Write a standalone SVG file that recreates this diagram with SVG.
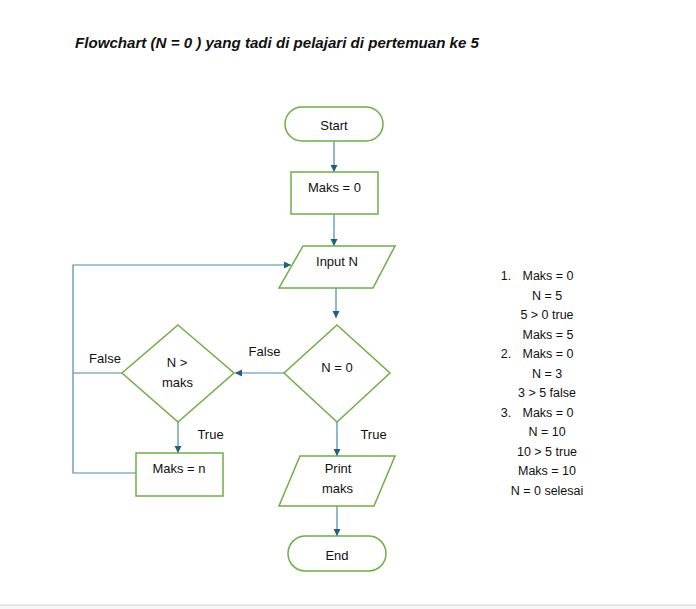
<svg xmlns="http://www.w3.org/2000/svg" width="696" height="609" viewBox="0 0 696 609">
<style>
.node{fill:#fff;stroke:#70AD47;stroke-width:1.5}
.t{font-family:"Liberation Sans",Arial,sans-serif;font-size:13px;fill:#111;text-anchor:middle}
.l{font-family:"Liberation Sans",Arial,sans-serif;font-size:12.5px;fill:#111;text-anchor:middle}
.c{fill:none;stroke:#4F88AE;stroke-width:1.2}
.title{font-family:"Liberation Sans",Arial,sans-serif;font-size:14.5px;font-weight:bold;font-style:italic;fill:#111}
</style>
<defs>
<marker id="ah" markerWidth="8" markerHeight="8" refX="7" refY="4" orient="auto" markerUnits="userSpaceOnUse">
<path d="M0,0.5 L7,4 L0,7.5 Z" fill="#1F5F7F"/>
</marker>
</defs>
<rect x="0" y="0" width="696" height="609" fill="#fff"/>
<rect x="0" y="605" width="696" height="4" fill="#F7F8FA"/>
<line x1="0" y1="605" x2="696" y2="605" stroke="#D4D4D4" stroke-width="1"/>
<text class="title" x="75" y="48" textLength="404" lengthAdjust="spacingAndGlyphs">Flowchart (N = 0 ) yang tadi di pelajari di pertemuan ke 5</text>

<g id="connectors">
<line class="c" x1="334" y1="141" x2="334" y2="172" marker-end="url(#ah)"/>
<line class="c" x1="334" y1="214" x2="334" y2="246" marker-end="url(#ah)"/>
<line class="c" x1="336" y1="288" x2="336" y2="318" marker-end="url(#ah)"/>
<line class="c" x1="284" y1="373" x2="235" y2="373" marker-end="url(#ah)"/>
<polyline class="c" points="122,373 73,373"/>
<polyline class="c" points="136,473 73,473 73,265 291,265" marker-end="url(#ah)"/>
<line class="c" x1="178" y1="422" x2="178" y2="453" marker-end="url(#ah)"/>
<line class="c" x1="337" y1="422" x2="337" y2="456" marker-end="url(#ah)"/>
<line class="c" x1="337" y1="506" x2="337" y2="536" marker-end="url(#ah)"/>
<text class="t" x="105" y="363">False</text>
<text class="t" x="264.5" y="356">False</text>
<text class="t" x="210.5" y="439">True</text>
<text class="t" x="373.5" y="439">True</text>
</g>

<g id="start">
<rect class="node" x="285" y="107" width="98" height="34" rx="17"/>
<text class="t" x="334" y="130">Start</text>
</g>
<g id="maks0">
<rect class="node" x="291" y="172" width="87" height="42"/>
<text class="t" x="334.5" y="192">Maks = 0</text>
</g>
<g id="inputN">
<polygon class="node" points="303,246 395,246 373,288 279,288"/>
<text class="t" x="337" y="266">Input N</text>
</g>
<g id="n0">
<polygon class="node" points="337,325 390,373 337,422 284,373"/>
<text class="t" x="337" y="372">N = 0</text>
</g>
<g id="nmaks">
<polygon class="node" points="178,325 234,373 178,422 122,373"/>
<text class="t" x="177" y="367">N &gt;</text>
<text class="t" x="177.5" y="387">maks</text>
</g>
<g id="maksn">
<rect class="node" x="136" y="453" width="87" height="43"/>
<text class="t" x="179" y="472.5">Maks = n</text>
</g>
<g id="print">
<polygon class="node" points="300,456 395,456 374,506 279,506"/>
<text class="t" x="338" y="472.5">Print</text>
<text class="t" x="337.5" y="493">maks</text>
</g>
<g id="end">
<rect class="node" x="288" y="536" width="98" height="35" rx="17.5"/>
<text class="t" x="337" y="560">End</text>
</g>

<g id="notes">
<text class="l" x="506" y="280">1.</text>
<text class="l" x="548" y="280">Maks = 0</text>
<text class="l" x="547" y="299.5">N = 5</text>
<text class="l" x="547" y="319">5 &gt; 0 true</text>
<text class="l" x="548" y="338.5">Maks = 5</text>
<text class="l" x="506" y="358">2.</text>
<text class="l" x="548" y="358">Maks = 0</text>
<text class="l" x="547" y="377.5">N = 3</text>
<text class="l" x="547" y="397">3 &gt; 5 false</text>
<text class="l" x="506" y="416.5">3.</text>
<text class="l" x="548" y="416.5">Maks = 0</text>
<text class="l" x="547" y="436">N = 10</text>
<text class="l" x="547" y="455.5">10 &gt; 5 true</text>
<text class="l" x="547" y="475">Maks = 10</text>
<text class="l" x="547" y="494.5">N = 0 selesai</text>
</g>
</svg>
